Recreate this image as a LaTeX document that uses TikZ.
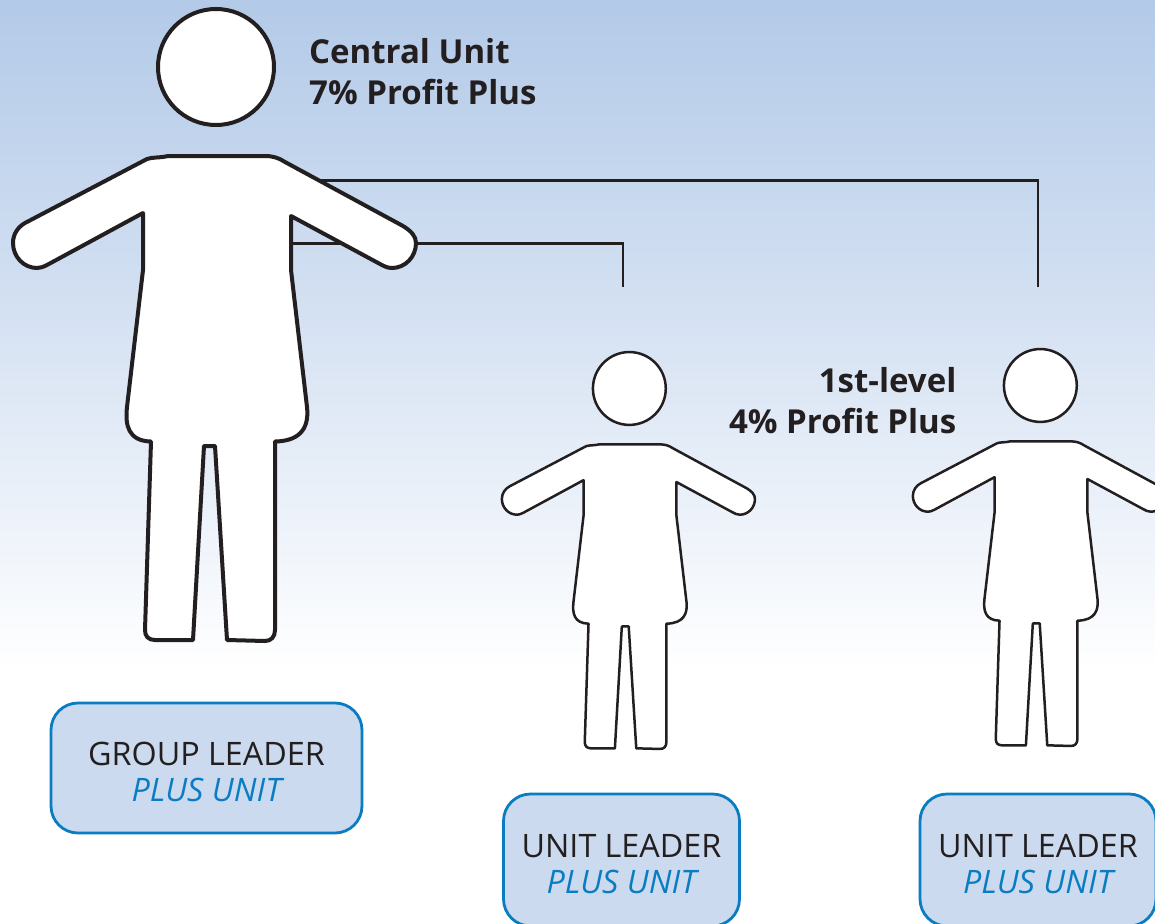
\documentclass[tikz,border=0pt]{standalone}
\usepackage{fontspec}
\setmainfont{Open Sans}
\definecolor{inkline}{HTML}{231F20}
\definecolor{boxblue}{HTML}{0A7DC2}
\definecolor{boxfill}{HTML}{CBDAEE}
\definecolor{bgtop}{HTML}{B3CAE8}
\definecolor{bgmid}{HTML}{D3E0F2}
\tikzset{
  x=1pt,y=-1pt,
  personline/.style={draw=inkline,fill=white,line join=round},
  connector/.style={draw=inkline,line width=2.4pt},
  rolebox/.style={draw=boxblue,fill=boxfill,line width=2.8pt,rounded corners=27pt,inner sep=0pt,align=center,font=\fontsize{32.3}{36}\selectfont,text=inkline},
  bigtext/.style={font=\fontsize{33}{41}\selectfont\bfseries,text=inkline,inner sep=0pt},
}
\newcommand{\personshape}{%
  \path[personline] (216,67) circle (58);
  \path[personline] (168,156) -- (265,156) .. controls (273,156) and (279,158) .. (285,162)
    -- (403,226) .. controls (411,231) and (416,236) .. (416,243)
    .. controls (416,257) and (405,268) .. (392,268) .. controls (387,268) and (384,266) .. (380,264)
    -- (291,216) -- (291,270) -- (307,407) .. controls (309,425) and (303,441) .. (275,441.5)
    -- (275,630) .. controls (275,637) and (271,641) .. (265,641) -- (227,640)
    -- (215,446) -- (204,446) -- (193,640) -- (155,640)
    .. controls (148,640) and (145,636) .. (145,630) -- (151,441.5)
    .. controls (128,441) and (125,425) .. (127,407) -- (143,270) -- (143,213)
    -- (47,265) .. controls (43,267) and (40,268) .. (37,268)
    .. controls (24,268) and (13,257) .. (13,243) .. controls (13,234) and (18,227) .. (25,223)
    -- (147,159) .. controls (152,157) and (160,158) .. (168,156) -- cycle;
}
\newcommand{\boxpad}{\rule{0pt}{31pt}}
\begin{document}
\begin{tikzpicture}
\useasboundingbox (0,0) rectangle (1155,923);
\clip (0,0) rectangle (1155,923);
\path[top color=bgtop,bottom color=bgmid] (0,0) rectangle (1155,300);
\path[top color=bgmid,bottom color=white] (0,299.5) rectangle (1155,670);
\path[fill=white] (0,669.5) rectangle (1155,923);
% connector anchors
\coordinate (bigA) at (280,180.5);
\coordinate (bigB) at (280,243.5);
\coordinate (endA) at (1038,287);
\coordinate (endB) at (623,287);
\draw[connector] (bigA) -| (endA);
\draw[connector] (bigB) -| (endB);
% figures
\begin{scope}[line width=4pt]\personshape\end{scope}
\begin{scope}[shift={(493.7,346.4)},scale=.628,line width=2.5pt]\personshape\end{scope}
\begin{scope}[shift={(904.7,343.4)},scale=.628,line width=2.5pt]\personshape\end{scope}
% texts
\node[bigtext,anchor=north west,align=left] (central) at (309,38) {Central Unit\\7\% Profit Plus};
\node[bigtext,anchor=north east,align=right] (first) at (956.5,367.5) {1st-level\\4\% Profit Plus};
\node[rolebox,minimum width=311pt,minimum height=130pt] (group) at (206.5,768) {\boxpad GROUP LEADER\\\textcolor{boxblue}{\itshape PLUS UNIT}};
\node[rolebox,minimum width=236pt,minimum height=132pt] (unitA) at (621.5,860) {\boxpad UNIT LEADER\\\textcolor{boxblue}{\itshape PLUS UNIT}};
\node[rolebox,minimum width=236pt,minimum height=132pt] (unitB) at (1038,860) {\boxpad UNIT LEADER\\\textcolor{boxblue}{\itshape PLUS UNIT}};
\end{tikzpicture}
\end{document}
